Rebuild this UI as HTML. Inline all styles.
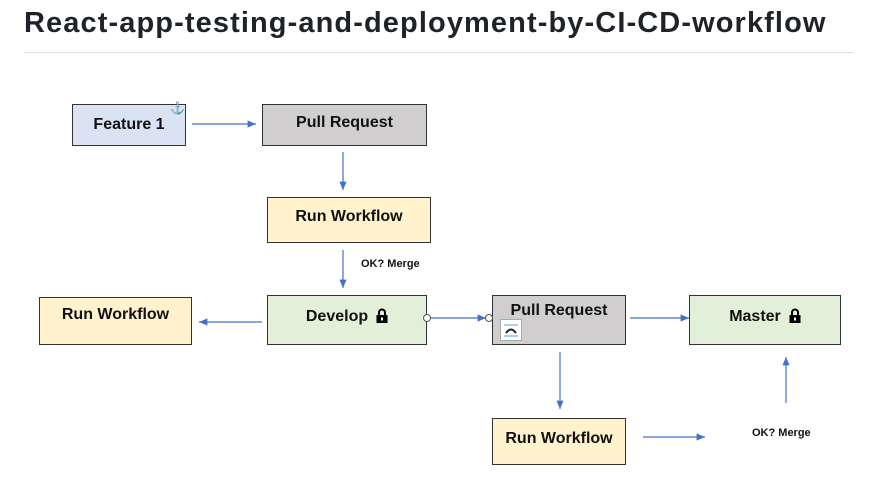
<!DOCTYPE html>
<html><head><style>
body{margin:0;width:873px;height:495px;background:#fff;position:relative;overflow:hidden;font-family:"Liberation Sans",sans-serif}
h1{position:absolute;left:24px;top:7px;margin:0;font-size:29px;font-weight:bold;color:#1f2328;letter-spacing:1.1px}
.hr{position:absolute;left:24px;top:52px;width:829px;height:1px;background:#d8dee4}
.b{position:absolute;box-sizing:border-box;border:1px solid #333;font-weight:bold;font-size:16px;display:flex;justify-content:center;color:#111}
.t{position:absolute;font-weight:bold;font-size:11px;color:#111}
.lk{display:inline-block;margin-left:8px;vertical-align:top;margin-top:-4px}
</style></head><body>
<h1>React-app-testing-and-deployment-by-CI-CD-workflow</h1>
<div class="hr"></div>
<div class="b" style="left:72px;top:104px;width:114px;height:42px;background:#dae3f3;align-items:center">Feature 1</div>
<div style="position:absolute;left:170px;top:101px;color:#4472c4;font-size:12px">⚓</div>
<div class="b" style="left:262px;top:104px;width:165px;height:42px;background:#d0cece;align-items:center;padding-bottom:4px">Pull Request</div>
<div class="b" style="left:267px;top:197px;width:164px;height:46px;background:#fff2cc;align-items:center;padding-bottom:6px">Run Workflow</div>
<div class="b" style="left:267px;top:295px;width:160px;height:50px;background:#e2f0d9;align-items:center;padding-bottom:6px">Develop<svg class="lk" width="12" height="15" viewBox="0 0 12 15"><path d="M3,7 V4.5 a3,3 0 0 1 6,0 V7" stroke="#000" stroke-width="2" fill="none"/><rect x="0.5" y="7" width="11" height="8" fill="#000"/><rect x="5" y="9.5" width="2" height="3" fill="#fff"/></svg></div>
<div class="b" style="left:39px;top:297px;width:153px;height:48px;background:#fff2cc;align-items:center;padding-bottom:12px">Run Workflow</div>
<div class="b" style="left:492px;top:295px;width:134px;height:50px;background:#d0cece;padding-top:6px">Pull Request</div>
<div style="position:absolute;left:500px;top:319px;width:22px;height:22px;background:#fff;border:1px solid #aaa;box-sizing:border-box"></div>
<div class="b" style="left:689px;top:295px;width:152px;height:50px;background:#e2f0d9;align-items:center;padding-bottom:6px">Master<svg class="lk" width="12" height="15" viewBox="0 0 12 15"><path d="M3,7 V4.5 a3,3 0 0 1 6,0 V7" stroke="#000" stroke-width="2" fill="none"/><rect x="0.5" y="7" width="11" height="8" fill="#000"/><rect x="5" y="9.5" width="2" height="3" fill="#fff"/></svg></div>
<div class="b" style="left:492px;top:418px;width:134px;height:47px;background:#fff2cc;align-items:center;padding-bottom:6px">Run Workflow</div>
<div class="t" style="left:361px;top:258px">OK? Merge</div>
<div class="t" style="left:752px;top:427px">OK? Merge</div>
<svg width="873" height="495" style="position:absolute;left:0;top:0">
<defs><marker id="a" markerWidth="8" markerHeight="8" refX="7" refY="4" orient="auto"><path d="M0,1 L7,4 L0,7z" fill="#4472c4"/></marker></defs>
<g stroke="#4472c4" stroke-width="1.2" fill="none" marker-end="url(#a)">
<line x1="192" y1="124" x2="256" y2="124"/>
<line x1="343" y1="152" x2="343" y2="190"/>
<line x1="343" y1="250" x2="343" y2="288"/>
<line x1="262" y1="322" x2="199" y2="322"/>
<line x1="430" y1="318" x2="486" y2="318"/>
<line x1="630" y1="318" x2="689" y2="318"/>
<line x1="560" y1="352" x2="560" y2="409"/>
<line x1="643" y1="437" x2="705" y2="437"/>
<line x1="786" y1="403" x2="786" y2="357"/>
</g>
<circle cx="427" cy="318" r="3.5" fill="#fff" stroke="#555"/>
<circle cx="489" cy="318" r="3.5" fill="#fff" stroke="#555"/>
<g stroke="#5b9bd5" stroke-width="1"><line x1="504" y1="325" x2="518" y2="325"/><line x1="504" y1="336" x2="518" y2="336"/></g>
<path d="M506,333 Q511,326 516,333" stroke="#222" stroke-width="2" fill="none"/>
</svg>
</body></html>
